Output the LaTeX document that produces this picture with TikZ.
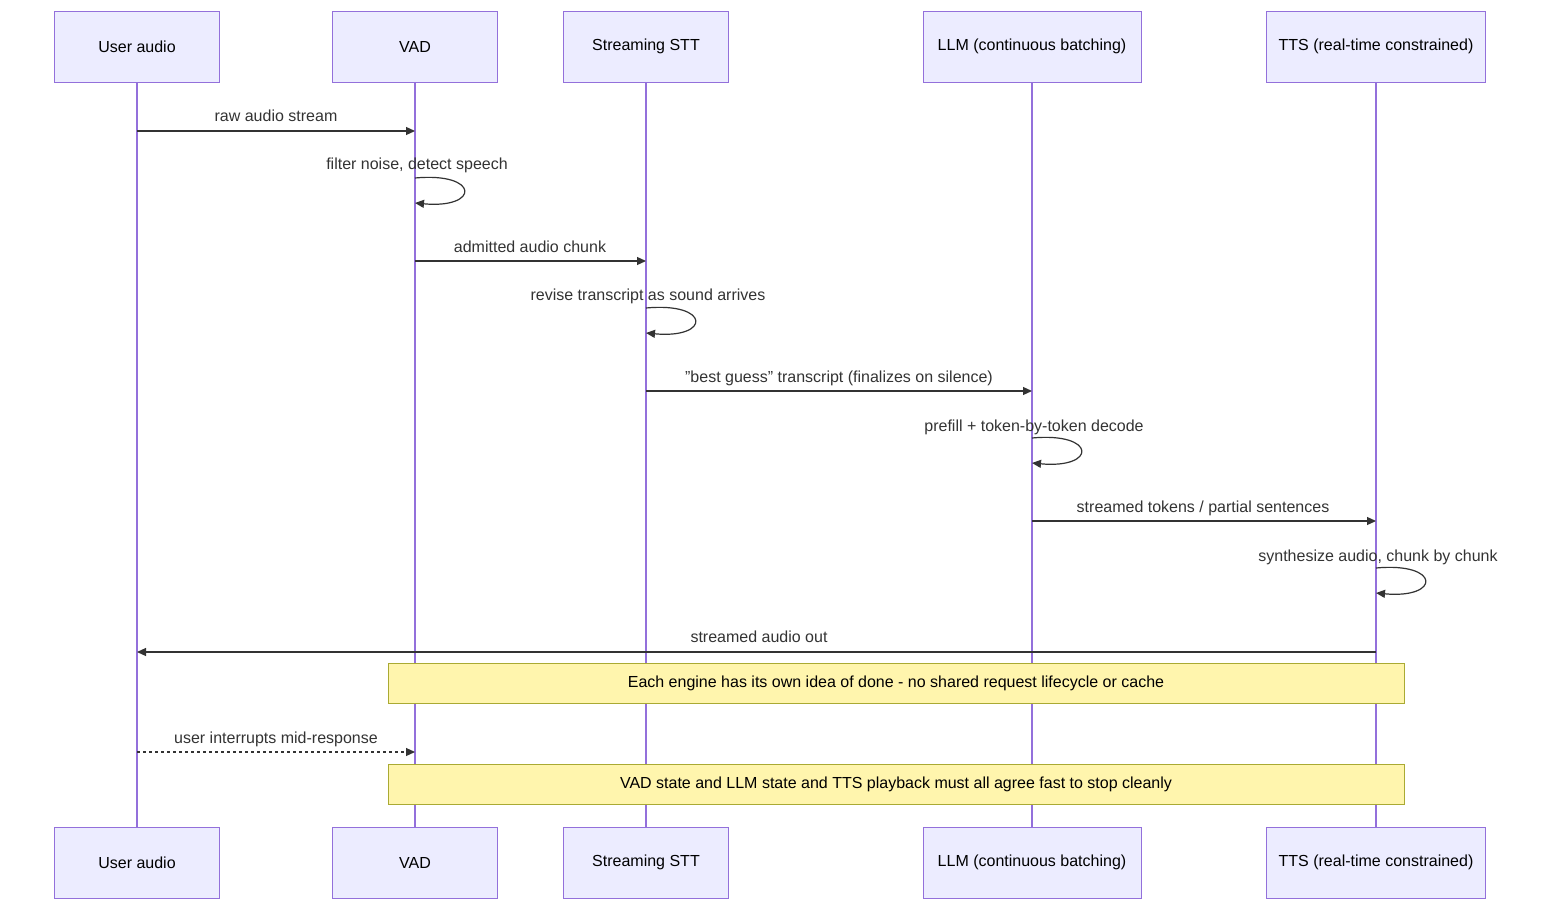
\documentclass[tikz,border=0pt]{standalone}
\usepackage{fontspec}
\setmainfont{Liberation Sans}
\usetikzlibrary{arrows.meta}
\definecolor{actfill}{HTML}{ECECFF}
\definecolor{actline}{HTML}{9370DB}
\definecolor{notefill}{HTML}{FFF5AD}
\definecolor{noteline}{HTML}{AAAA33}
\definecolor{txt}{HTML}{333333}
\begin{document}
\begin{tikzpicture}[x=1pt,y=-1pt,
 every node/.style={font=\fontsize{16}{19}\selectfont},
 actor/.style={draw=actline,fill=actfill,minimum height=71pt,inner sep=0pt,text=black},
 life/.style={draw=actline,line width=1.5pt},
 msg/.style={draw=txt,line width=1.2pt,-{Triangle[length=9pt,width=8pt]}},
 lbl/.style={text=txt,inner sep=0pt,anchor=base},
 note/.style={draw=noteline,fill=notefill,minimum width=1016pt,minimum height=40pt,inner sep=0pt,text=black}]
\useasboundingbox (0,0) rectangle (1568,920);
\foreach \n/\x/\w/\t in {ua/137/165/User audio, vad/415/165/VAD, stt/646/165/Streaming STT, llm/1032/218/LLM (continuous batching), tts/1376/219/TTS (real-time constrained)}{
  \coordinate (\n-t) at (\x,82);
  \coordinate (\n-b) at (\x,827);
  \draw[life] (\n-t) -- (\n-b);
  \node[actor,minimum width=\w pt] (\n-top) at (\x,46.5) {\t};
  \node[actor,minimum width=\w pt] (\n-bot) at (\x,862.5) {\t};
}
% messages
\coordinate (m1a) at (137,131); \coordinate (m1b) at (415,131);
\draw[msg] (m1a) -- (m1b);
\node[lbl] (l1) at (276,122) {raw audio stream};
\coordinate (s1a) at (415,178); \coordinate (s1b) at (415,203);
\draw[msg] (s1a) .. controls (480,172) and (480,209) .. (s1b);
\node[lbl] (l2) at (417,170) {filter noise, detect speech};
\coordinate (m2a) at (415,261); \coordinate (m2b) at (646,261);
\draw[msg] (m2a) -- (m2b);
\node[lbl] (l3) at (530,252) {admitted audio chunk};
\coordinate (s2a) at (646,308); \coordinate (s2b) at (646,333);
\draw[msg] (s2a) .. controls (711,302) and (711,339) .. (s2b);
\node[lbl] (l4) at (648,300) {revise transcript as sound arrives};
\coordinate (m3a) at (646,391); \coordinate (m3b) at (1032,391);
\draw[msg] (m3a) -- (m3b);
\node[lbl] (l5) at (839,382) {"best guess" transcript (finalizes on silence)};
\coordinate (s3a) at (1032,438); \coordinate (s3b) at (1032,463);
\draw[msg] (s3a) .. controls (1097,432) and (1097,469) .. (s3b);
\node[lbl] (l6) at (1034,431) {prefill + token-by-token decode};
\coordinate (m4a) at (1032,521); \coordinate (m4b) at (1376,521);
\draw[msg] (m4a) -- (m4b);
\node[lbl] (l7) at (1203,512) {streamed tokens / partial sentences};
\coordinate (s4a) at (1376,568); \coordinate (s4b) at (1376,593);
\draw[msg] (s4a) .. controls (1441,562) and (1441,599) .. (s4b);
\node[lbl] (l8) at (1378,561) {synthesize audio, chunk by chunk};
\coordinate (m5a) at (1376,652); \coordinate (m5b) at (137,652);
\draw[msg] (m5a) -- (m5b);
\node[lbl] (l9) at (759,642) {streamed audio out};
\node[note] (n1) at (896,683.5) {Each engine has its own idea of done - no shared request lifecycle or cache};
\coordinate (m6a) at (137,752); \coordinate (m6b) at (415,752);
\draw[msg,dash pattern=on 3pt off 3pt] (m6a) -- (m6b);
\node[lbl] (l10) at (276,743) {user interrupts mid-response};
\node[note] (n2) at (896,784) {VAD state and LLM state and TTS playback must all agree fast to stop cleanly};
\end{tikzpicture}
\end{document}
